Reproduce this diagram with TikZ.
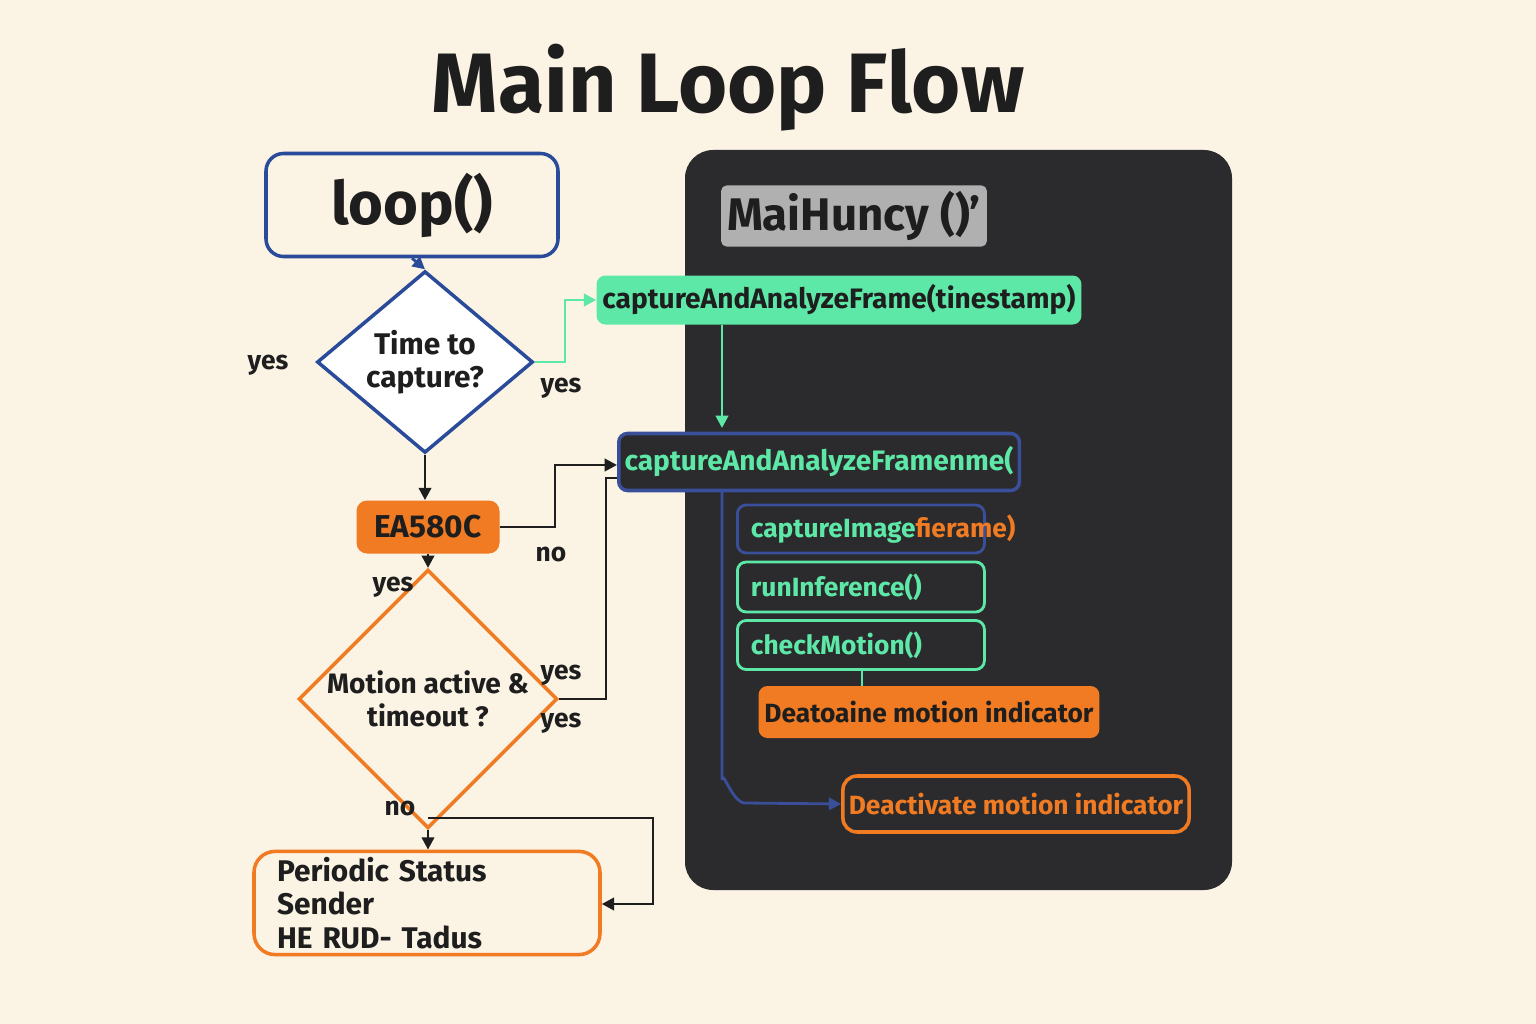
\documentclass[tikz,border=0pt]{standalone}
\usepackage{fontspec}
\setmainfont{Fira Sans}
\usetikzlibrary{arrows.meta,shapes.geometric}
\definecolor{bg}{HTML}{FBF3E4}
\definecolor{navy}{HTML}{2A4A9A}
\definecolor{org}{HTML}{F07B22}
\definecolor{grn}{HTML}{5EE8A8}
\definecolor{panel}{HTML}{2B2B2D}
\definecolor{ink}{HTML}{1E1E1E}
\definecolor{gry}{HTML}{B0B0B0}
\definecolor{bluel}{HTML}{3A4F9A}
\begin{document}
\begin{tikzpicture}[x=0.02cm,y=-0.02cm,
  lbl/.style={font=\fontsize{15}{15}\selectfont\bfseries,text=ink},
  arr/.style={-{Triangle[length=7pt,width=7pt]},line width=1.6pt},
  sub/.style={rounded corners=5pt,line width=1.6pt,fill=panel}]
\fill[bg] (0,0) rectangle (1536,1024);
\node[font=\fontsize{48}{48}\selectfont\bfseries,text=ink] (title) at (728,88) {Main Loop Flow};
% left
\node[draw=navy,line width=2pt,rounded corners=10pt,fill=bg,minimum width=292*0.02cm,minimum height=103*0.02cm,font=\fontsize{34}{34}\selectfont\bfseries,text=ink] (loop) at (412,205) {loop()};
\node[diamond,draw=navy,line width=2pt,fill=white,minimum width=216*0.02cm,minimum height=152*0.02cm,inner sep=0pt,align=center,font=\fontsize{17}{19}\selectfont\bfseries,text=ink] (d1) at (425,362) {Time to\\capture?};
\node[rounded corners=6pt,fill=org,minimum width=143*0.02cm,minimum height=53*0.02cm,font=\fontsize{18}{18}\selectfont\bfseries,text=ink] (ea) at (428,527) {EA580C};
\node[diamond,draw=org,line width=2pt,fill=bg,minimum width=228*0.02cm,minimum height=166*0.02cm,inner sep=0pt,align=center,font=\fontsize{16}{19}\selectfont\bfseries,text=ink] (d2) at (428,699) {Motion active \&\\timeout ?};
\node[draw=org,line width=2pt,rounded corners=12pt,fill=bg,minimum width=346*0.02cm,minimum height=92*0.02cm,text width=300*0.02cm,align=left,font=\fontsize{17}{19}\selectfont\bfseries,text=ink] (per) at (427,903) {Periodic Status Sender\\HE RUD- Tadus};
\node[lbl] at (268,365) {yes};
\node[lbl] at (561,388) {yes};
\node[lbl] at (551,554) {no};
\node[lbl] at (393,587) {yes};
\node[lbl] at (561,675) {yes};
\node[lbl] at (561,723) {yes};
\node[lbl] at (400,808) {no};
% panel
\fill[panel,rounded corners=16pt] (685,150) rectangle (1232,890);
\node[fill=gry,rounded corners=3pt,minimum width=256*0.02cm,minimum height=52*0.02cm,font=\fontsize{26}{26}\selectfont\bfseries,text=ink] (mh) at (854,216) {MaiHuncy ()’};
\node[fill=grn,rounded corners=5pt,minimum width=446*0.02cm,minimum height=49*0.02cm,font=\fontsize{16}{16}\selectfont\bfseries,text=ink] (cap1) at (839,300) {captureAndAnalyzeFrame(tinestamp)};
\node[sub,draw=bluel,line width=2pt,minimum width=366*0.02cm,minimum height=57*0.02cm,font=\fontsize{16}{16}\selectfont\bfseries,text=grn,anchor=west] (cap2) at (617,462) {captureAndAnalyzeFramenme(};
\node[sub,draw=bluel,minimum width=247*0.02cm,minimum height=48*0.02cm,font=\fontsize{15}{15}\selectfont\bfseries,anchor=west,text width=220*0.02cm] (ci) at (736,529) {\textcolor{grn}{captureImage}\textcolor{org}{fierame)}};
\node[sub,draw=grn,minimum width=247*0.02cm,minimum height=50*0.02cm,font=\fontsize{15}{15}\selectfont\bfseries,text=grn,anchor=west,text width=220*0.02cm] (ri) at (736,587) {runInference()};
\node[sub,draw=grn,minimum width=247*0.02cm,minimum height=49*0.02cm,font=\fontsize{15}{15}\selectfont\bfseries,text=grn,anchor=west,text width=220*0.02cm] (cm) at (736,645) {checkMotion()};
\node[fill=org,rounded corners=5pt,minimum width=326*0.02cm,minimum height=52*0.02cm,font=\fontsize{15}{15}\selectfont\bfseries,text=ink] (deo) at (929,712) {Deatoaine motion indicator};
\node[draw=org,line width=2pt,rounded corners=8pt,fill=panel,minimum width=338*0.02cm,minimum height=56*0.02cm,font=\fontsize{15}{15}\selectfont\bfseries,text=org] (dea) at (1016,804) {Deactivate motion indicator};
% connectors
\draw[arr,navy] (loop.south) -- (d1.north);
\draw[arr,ink] (d1.south) -- (ea.north -| d1.south);
\draw[arr,ink] (ea.south) -- (d2.north);
\draw[arr,ink] (d2.south) -- (per.north -| d2.south);
\coordinate (j) at (428,818);
\draw[arr,ink] (j) -- (653,818) -- (653,904) -- (per.east |- 653,904);
\draw[arr,grn] (d1.east) -- (565,362) -- (565,300) -- (cap1.west);
\draw[arr,grn] (722,325) -- (722,428);
\draw[arr,ink] (ea.east) -- (555,527) -- (555,465) -- (cap2.west |- 555,465);
\draw[line width=1.6pt,ink] (d2.east) -- (606,699) -- (606,478) -- (617,478);
\draw[arr,bluel] (722,491) -- (722,780) to[out=90-180+180,in=180] (745,803) -- (dea.west);
\draw[line width=1.6pt,grn] (862,669) -- (deo.north -| 862,669);
\end{tikzpicture}
\end{document}
